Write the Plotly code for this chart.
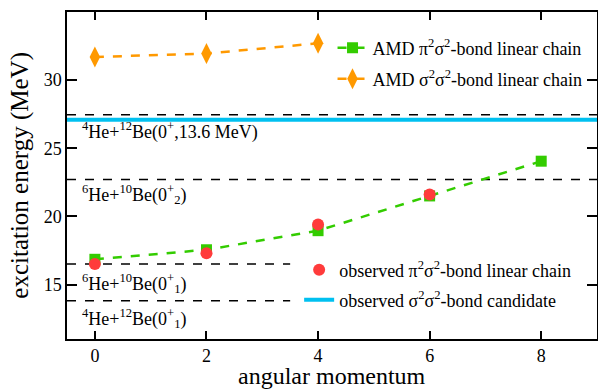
import plotly.graph_objects as go

# Data
j_amd_pi = [0, 2, 4, 6, 8]
e_amd_pi = [16.85, 17.55, 18.95, 21.5, 24.05]
j_amd_sig = [0, 2, 4]
e_amd_sig = [31.7, 31.95, 32.7]
j_obs_pi = [0, 2, 4, 6]
e_obs_pi = [16.5, 17.3, 19.4, 21.6]
e_obs_sig = 27.1
thresholds = [27.45, 22.7, 16.5, 13.8]
threshold_xend = [9, 9, 3.5, 3.5]
threshold_labels = [
    "<sup>4</sup>He+<sup>12</sup>Be(0<sup>+</sup>,13.6 MeV)",
    "<sup>6</sup>He+<sup>10</sup>Be(0<sup>+</sup><sub>2</sub>)",
    "<sup>6</sup>He+<sup>10</sup>Be(0<sup>+</sup><sub>1</sub>)",
    "<sup>4</sup>He+<sup>12</sup>Be(0<sup>+</sup><sub>1</sub>)",
]
label_y = [26.3, 21.6, 15.1, 12.5]

FONT = "Liberation Serif"
fig = go.Figure()

for e, xe in zip(thresholds, threshold_xend):
    fig.add_trace(go.Scatter(x=[-0.5, xe], y=[e, e], mode="lines",
                             line=dict(color="black", width=1.5, dash="dash"),
                             showlegend=False, hoverinfo="skip"))

fig.add_trace(go.Scatter(x=[-0.5, 9], y=[e_obs_sig, e_obs_sig], mode="lines",
                         line=dict(color="#00c0f0", width=4),
                         name="observed σ<sup>2</sup>σ<sup>2</sup>-bond candidate",
                         legend="legend4"))

fig.add_trace(go.Scatter(x=j_amd_pi, y=e_amd_pi, mode="lines+markers",
                         line=dict(color="#33cc00", width=2.5, dash="dash"),
                         marker=dict(symbol="square", size=11, color="#33cc00"),
                         name="AMD π<sup>2</sup>σ<sup>2</sup>-bond linear chain",
                         legend="legend"))
fig.add_trace(go.Scatter(x=j_amd_sig, y=e_amd_sig, mode="lines+markers",
                         line=dict(color="#ff9900", width=2.5, dash="dash"),
                         marker=dict(symbol="diamond-tall", size=15, color="#ff9900"),
                         name="AMD σ<sup>2</sup>σ<sup>2</sup>-bond linear chain",
                         legend="legend2"))
fig.add_trace(go.Scatter(x=j_obs_pi, y=e_obs_pi, mode="markers",
                         marker=dict(symbol="circle", size=12, color="#ff3b3b"),
                         name="observed π<sup>2</sup>σ<sup>2</sup>-bond linear chain",
                         legend="legend3"))

for txt, yy in zip(threshold_labels, label_y):
    fig.add_annotation(x=-0.27, y=yy, xref="x", yref="y", text=txt,
                       showarrow=False, xanchor="left", yanchor="middle",
                       font=dict(family=FONT, size=18, color="black"))

# axis titles
fig.add_annotation(x=0.5, y=-0.066, xref="paper", yref="paper", text="angular momentum",
                   showarrow=False, xanchor="center", yanchor="top",
                   font=dict(family=FONT, size=24, color="black"))
fig.add_annotation(x=-0.06, y=0.5, xref="paper", yref="paper", text="excitation energy (MeV)",
                   showarrow=False, xanchor="right", yanchor="middle", textangle=-90,
                   font=dict(family=FONT, size=25, color="black"))

leg = dict(bgcolor="rgba(0,0,0,0)", font=dict(family=FONT, size=18, color="black"),
           xanchor="left", yanchor="middle", itemwidth=30)
fig.update_layout(
    width=598, height=390,
    margin=dict(l=67, r=1, t=12, b=51),
    paper_bgcolor="white", plot_bgcolor="white",
    font=dict(family=FONT, color="black"),
    legend=dict(leg, x=0.501, y=0.89),
    legend2=dict(leg, x=0.501, y=0.795),
    legend3=dict(leg, x=0.438, y=0.211),
    legend4=dict(leg, x=0.438, y=0.119),
    xaxis=dict(range=[-0.5, 9], tickvals=[0, 2, 4, 6, 8], automargin=False,
               showline=True, linecolor="black", linewidth=1.5, mirror="ticks",
               ticks="inside", ticklen=8, tickwidth=1.5, tickcolor="black",
               showgrid=False, zeroline=False,
               tickfont=dict(family=FONT, size=18)),
    yaxis=dict(range=[11, 35], tickvals=[15, 20, 25, 30], automargin=False,
               showline=True, linecolor="black", linewidth=1.5, mirror="ticks",
               ticks="inside", ticklen=10, tickwidth=1.5, tickcolor="black",
               showgrid=False, zeroline=False,
               tickfont=dict(family=FONT, size=18)),
)

fig.write_html("out.html", config={"displayModeBar": False},
               post_script="document.body.style.margin='0px';")
